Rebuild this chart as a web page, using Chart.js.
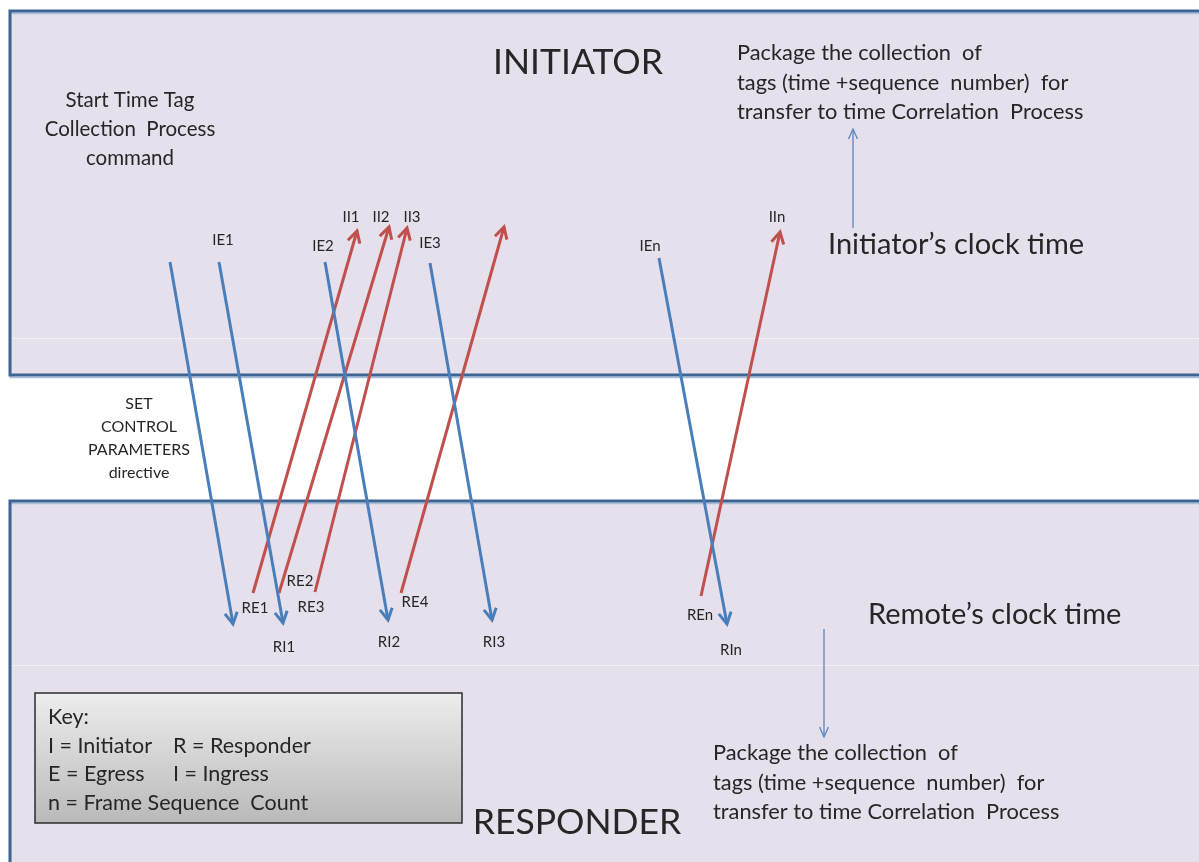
<!DOCTYPE html>
<html>
<head>
<meta charset="utf-8">
<title>Time tag collection</title>
<script src="https://cdn.jsdelivr.net/npm/chart.js@4/dist/chart.umd.min.js"></script>
<style>
    html, body { margin: 0; padding: 0; background: #ffffff; overflow: hidden; }
    canvas { display: block; }
</style>
</head>
<body>
<canvas id="diagrama" width="1199" height="862"></canvas>
<script>
"use strict";

/********************************************************************
 * Data: frames sent by the initiator (egress) and answered by the
 * responder (ingress), in diagram units.
 ********************************************************************/
const egressFromX = [170, 219, 325, 430, 659];
const egressFromY = [262, 262, 262, 263, 258];
const egressToX   = [233, 283, 388, 492, 727];
const egressToY   = [624, 623, 620, 620, 624];

const ingressFromX = [253, 279, 315, 401, 701];
const ingressFromY = [593, 593, 592, 593, 596];
const ingressToX   = [357, 389, 407, 504, 780];
const ingressToY   = [231, 227, 228, 227, 232];

// package hand-off arrows (initiator goes up, responder goes down)
const handoffFromX = [853, 824];
const handoffFromY = [228, 629];
const handoffToX   = [853, 824];
const handoffToY   = [129, 737];

// time tag names
const tagText = ["IE1", "IE2", "IE3", "IEn", "II1", "II2", "II3", "IIn",
                 "RE1", "RE2", "RE3", "RE4", "REn", "RI1", "RI2", "RI3", "RIn"];

// key lines
const keyLines = ["Key:", "I = Initiator", "E = Egress", "n = Frame Sequence  Count"];
const keyLinesRight = ["", "R = Responder", "I = Ingress", ""];

const startNote   = ["Start Time Tag", "Collection  Process", "command"];
const directive   = ["SET", "CONTROL", "PARAMETERS", "directive"];
const packageNote = ["Package the collection  of",
                     "tags (time +sequence  number)  for",
                     "transfer to time Correlation  Process"];

/********************************************************************
 * Layout
 ********************************************************************/
const tagX = [223, 323, 430, 650, 351, 381, 412, 777, 255, 300, 311, 415, 700, 284, 389, 494, 731];
const tagY = [240, 246, 243, 246, 217, 217, 217, 217, 608, 581, 607, 602, 615, 647, 642, 642, 650];

const FONT = "Lato, 'Open Sans', sans-serif";
const TEXT_COLOR = "#262626";
const BLUE = "#4a7ebb";
const RED = "#c0504d";
const LANE_FILL = "#e5e0ec";
const LANE_LINE = "#3d6594";

/********************************************************************
 * Helpers
 ********************************************************************/
function segmentData(x0, y0, x1, y1) {

    return [{ x: x0, y: y0 }, { x: x1, y: y1 }];

}

function texto(ctx, x, y, txt, size, align) {

    ctx.font = size + "px " + FONT;

    ctx.fillStyle = TEXT_COLOR;

    ctx.textAlign = align || "center";

    ctx.textBaseline = "middle";

    ctx.fillText(txt, x, y);

}

function cabeca(ctx, p0, p1, len, spread, color, width) {

    const ang = Math.atan2(p1.y - p0.y, p1.x - p0.x);

    ctx.save();

    ctx.strokeStyle = color;

    ctx.lineWidth = width;

    ctx.lineCap = "butt";

    ctx.lineJoin = "miter";

    ctx.beginPath();

    ctx.moveTo(p1.x - len * Math.cos(ang - spread), p1.y - len * Math.sin(ang - spread));

    ctx.lineTo(p1.x, p1.y);

    ctx.lineTo(p1.x - len * Math.cos(ang + spread), p1.y - len * Math.sin(ang + spread));

    ctx.stroke();

    ctx.restore();

}

function faixa(ctx, sx, sy, top, bottom) {

    const l = sx.getPixelForValue(10);

    const r = sx.getPixelForValue(1199) + 20;

    const t = sy.getPixelForValue(top);

    const b = sy.getPixelForValue(bottom);

    ctx.save();

    ctx.fillStyle = LANE_FILL;

    ctx.fillRect(l, t, r - l, b - t);

    // soft lighter edge under the border
    ctx.strokeStyle = "#a9bedb";

    ctx.lineWidth = 1.5;

    ctx.strokeRect(l + 0.5, t + 2.5, r - l, b - t);

    ctx.strokeStyle = LANE_LINE;

    ctx.lineWidth = 3;

    ctx.strokeRect(l, t, r - l, b - t);

    ctx.restore();

}

function linhaClara(ctx, sx, sy, yv) {

    const py = sy.getPixelForValue(yv);

    ctx.save();

    ctx.strokeStyle = "rgba(255,255,255,0.5)";

    ctx.lineWidth = 1;

    ctx.beginPath();

    ctx.moveTo(sx.getPixelForValue(12), py + 0.5);

    ctx.lineTo(sx.getPixelForValue(1199), py + 0.5);

    ctx.stroke();

    ctx.restore();

}

/********************************************************************
 * Plugin that draws lanes, arrow heads and all captions
 ********************************************************************/
const diagramaPlugin = {

    id: "diagrama",

    beforeDatasetsDraw(chart) {

        const ctx = chart.ctx;

        const sx = chart.scales.x;

        const sy = chart.scales.y;

        faixa(ctx, sx, sy, 11, 375);

        faixa(ctx, sx, sy, 501, 900);

        linhaClara(ctx, sx, sy, 338);

        linhaClara(ctx, sx, sy, 665);

    },

    afterDatasetsDraw(chart) {

        const ctx = chart.ctx;

        const sx = chart.scales.x;

        const sy = chart.scales.y;

        // arrow heads
        chart.data.datasets.forEach((ds, i) => {

            const pts = chart.getDatasetMeta(i).data;

            if (pts.length < 2) return;

            if (ds.thin)
                cabeca(ctx, pts[0], pts[1], 11, 0.42, ds.borderColor, 1.3);
            else
                cabeca(ctx, pts[0], pts[1], 13, 0.5, ds.borderColor, 3);

        });

        // lane titles
        texto(ctx, sx.getPixelForValue(578), sy.getPixelForValue(63), "INITIATOR", 35.5);

        texto(ctx, sx.getPixelForValue(577), sy.getPixelForValue(823), "RESPONDER", 35.5);

        texto(ctx, sx.getPixelForValue(828), sy.getPixelForValue(245), "Initiator\u2019s clock time", 29, "left");

        texto(ctx, sx.getPixelForValue(868), sy.getPixelForValue(615), "Remote\u2019s clock time", 29, "left");

        // notes
        startNote.forEach((t, k) => {

            texto(ctx, sx.getPixelForValue(130), sy.getPixelForValue(100 + 29 * k), t, 20.5);

        });

        directive.forEach((t, k) => {

            texto(ctx, sx.getPixelForValue(139), sy.getPixelForValue(404 + 23 * k), t, 16);

        });

        packageNote.forEach((t, k) => {

            texto(ctx, sx.getPixelForValue(737), sy.getPixelForValue(53 + 29.5 * k), t, 21.8, "left");

            texto(ctx, sx.getPixelForValue(713), sy.getPixelForValue(753 + 29.5 * k), t, 21.8, "left");

        });

        // tag names
        tagText.forEach((t, k) => {

            texto(ctx, sx.getPixelForValue(tagX[k]), sy.getPixelForValue(tagY[k]), t, 15);

        });

        // key box
        const kl = sx.getPixelForValue(35);

        const kr = sx.getPixelForValue(462);

        const kt = sy.getPixelForValue(693);

        const kb = sy.getPixelForValue(823);

        const grad = ctx.createLinearGradient(0, kt, 0, kb);

        grad.addColorStop(0, "#ededed");

        grad.addColorStop(1, "#b9b9b9");

        ctx.save();

        ctx.fillStyle = grad;

        ctx.fillRect(kl, kt, kr - kl, kb - kt);

        ctx.strokeStyle = "#2b2b2b";

        ctx.lineWidth = 1.5;

        ctx.strokeRect(kl, kt, kr - kl, kb - kt);

        ctx.restore();

        keyLines.forEach((t, k) => {

            const yy = sy.getPixelForValue(717 + 28.7 * k);

            texto(ctx, sx.getPixelForValue(48), yy, t, 21.5, "left");

            if (keyLinesRight[k])
                texto(ctx, sx.getPixelForValue(173), yy, keyLinesRight[k], 21.5, "left");

        });

    }

};

/********************************************************************
 * Datasets
 ********************************************************************/
function montarDatasets() {

    const lista = [];

    egressFromX.forEach((x0, i) => {

        lista.push({
            data: segmentData(x0, egressFromY[i], egressToX[i], egressToY[i]),
            borderColor: BLUE,
            borderWidth: 3
        });

    });

    ingressFromX.forEach((x0, i) => {

        lista.push({
            data: segmentData(x0, ingressFromY[i], ingressToX[i], ingressToY[i]),
            borderColor: RED,
            borderWidth: 3
        });

    });

    handoffFromX.forEach((x0, i) => {

        lista.push({
            data: segmentData(x0, handoffFromY[i], handoffToX[i], handoffToY[i]),
            borderColor: "#5a86c0",
            borderWidth: 1.3,
            thin: true
        });

    });

    lista.forEach(ds => {

        ds.showLine = true;

        ds.pointRadius = 0;

        ds.pointHoverRadius = 0;

        ds.fill = false;

        ds.tension = 0;

        ds.borderCapStyle = "butt";

        ds.clip = false;

    });

    return lista;

}

/********************************************************************
 * Chart
 ********************************************************************/
new Chart(document.getElementById("diagrama"), {

    type: "scatter",

    data: {

        datasets: montarDatasets()

    },

    options: {

        responsive: false,

        animation: false,

        events: [],

        layout: { padding: 0 },

        plugins: {

            legend: { display: false },

            tooltip: { enabled: false }

        },

        scales: {

            x: { type: "linear", min: 0, max: 1199, display: false },

            y: { type: "linear", min: 0, max: 862, reverse: true, display: false }

        }

    },

    plugins: [diagramaPlugin]

});
</script>
</body>
</html>
